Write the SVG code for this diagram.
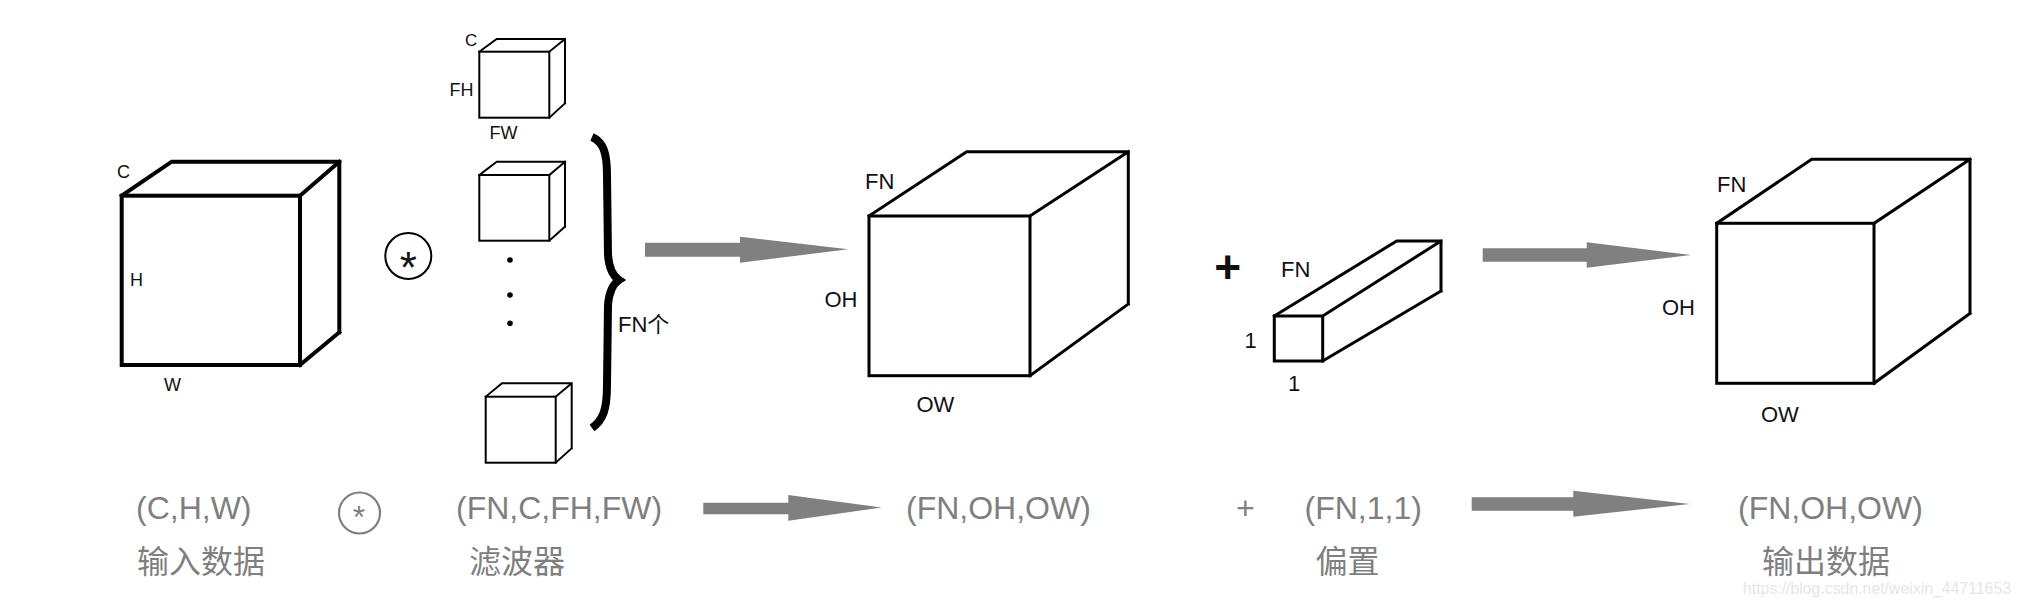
<svg xmlns="http://www.w3.org/2000/svg" width="2024" height="609" viewBox="0 0 2024 609">
<style>
.c4{fill:none;stroke:#000;stroke-width:4;stroke-linejoin:miter;stroke-linecap:square}
.c3{fill:none;stroke:#000;stroke-width:3;stroke-linejoin:miter;stroke-linecap:square}
.c2{fill:none;stroke:#000;stroke-width:2;stroke-linejoin:miter;stroke-linecap:square}
.lb{font-family:"Liberation Sans","Noto Sans CJK SC",sans-serif;fill:#111}
.s18{font-size:18px}
.s22{font-size:22px}
.gt{font-family:"Liberation Sans","Noto Sans CJK SC",sans-serif;font-size:32px;fill:#7f7f7f}
.cjk{font-family:"Noto Sans CJK SC","Liberation Sans",sans-serif;font-size:32px;fill:#7f7f7f}
.arrow{fill:#808080;stroke:none}
</style>

<g id="input-cube">
  <rect class="c4" x="121.7" y="195.7" width="178.3" height="169.3"/>
  <path class="c4" d="M121.7 195.7 L171.7 161.7 L339.3 161.7 L339.3 332.3 M300 195.7 L339.3 161.7 M300 365 L339.3 332.3"/>
  <text class="lb s18" x="117" y="178">C</text>
  <text class="lb s18" x="130" y="285.7">H</text>
  <text class="lb s18" x="164" y="390.7">W</text>
</g>

<g id="conv-op">
  <circle cx="408.3" cy="256" r="23" fill="none" stroke="#000" stroke-width="2"/>
  <text class="lb" x="408.3" y="283" font-size="44" text-anchor="middle">*</text>
</g>

<g id="filters">
  <rect class="c2" x="479.3" y="51.7" width="70" height="66"/>
  <path class="c2" d="M479.3 51.7 L496.7 39 L565 39 L565 103.3 M549.3 51.7 L565 39 M549.3 117.7 L565 103.3"/>
  <text class="lb" font-size="17" x="465" y="46">C</text>
  <text class="lb s18" x="449.5" y="96">FH</text>
  <text class="lb s18" x="489.5" y="139">FW</text>

  <rect class="c2" x="479.3" y="175" width="70" height="65.7"/>
  <path class="c2" d="M479.3 175 L496.7 161.7 L565 161.7 L565 226.7 M549.3 175 L565 161.7 M549.3 240.7 L565 226.7"/>

  <circle cx="510" cy="260" r="2.8" fill="#000"/>
  <circle cx="510" cy="295" r="2.8" fill="#000"/>
  <circle cx="510" cy="323.3" r="2.8" fill="#000"/>

  <rect class="c2" x="485.7" y="396.7" width="70" height="66"/>
  <path class="c2" d="M485.7 396.7 L502 383.3 L571.7 383.3 L571.7 448.3 M555.7 396.7 L571.7 383.3 M555.7 462.7 L571.7 448.3"/>
</g>

<g id="brace">
  <path d="M592 137 C603 142 607 152 607 175 L608 255 C609 268 613 276 619 280 C613 284 609 292 608 305 L607 385 C607 410 603 420 592 428" fill="none" stroke="#000" stroke-width="8"/>
  <text class="lb s22" x="618" y="331.7">FN个</text>
</g>

<g id="conv-output">
  <rect class="c3" x="869" y="216" width="161" height="159.7"/>
  <path class="c3" d="M869 216 L966.7 151.7 L1128.3 151.7 L1128.3 304 M1030 216 L1128.3 151.7 M1030 375.7 L1128.3 304"/>
  <text class="lb s22" x="865" y="189">FN</text>
  <text class="lb s22" x="824.5" y="306.7">OH</text>
  <text class="lb s22" x="916.5" y="411.7">OW</text>
</g>

<g id="plus-op">
  <text class="lb" x="1227.7" y="283" font-size="46" font-weight="bold" text-anchor="middle">+</text>
</g>

<g id="bias">
  <rect class="c3" x="1274.3" y="316" width="48.4" height="45"/>
  <path class="c3" d="M1274.3 316 L1396.7 241 L1441 241 L1441 291 M1322.7 316 L1441 241 M1322.7 361 L1441 291"/>
  <text class="lb s22" x="1281" y="277.3">FN</text>
  <text class="lb s22" x="1244.5" y="348.3">1</text>
  <text class="lb s22" x="1288" y="391">1</text>
</g>

<g id="final-output">
  <rect class="c3" x="1716.7" y="223.3" width="157.3" height="160"/>
  <path class="c3" d="M1716.7 223.3 L1811.7 159.3 L1970 159.3 L1970 313.3 M1874 223.3 L1970 159.3 M1874 383.3 L1970 313.3"/>
  <text class="lb s22" x="1717" y="191.7">FN</text>
  <text class="lb s22" x="1662" y="315">OH</text>
  <text class="lb s22" x="1761" y="421.7">OW</text>
</g>

<g id="connectors">
  <polygon class="arrow" points="645,242.7 740,242.7 740,236.7 848.3,249.3 740,262.7 740,256.7 645,256.7"/>
  <polygon class="arrow" points="1482.7,248.3 1586.7,248.3 1586.7,242.3 1691,255 1586.7,267.7 1586.7,261.7 1482.7,261.7"/>
  <polygon class="arrow" points="703.3,502.7 788.3,502.7 788.3,495 881.7,507.5 788.3,520.7 788.3,514.3 703.3,514.3"/>
  <polygon class="arrow" points="1471.7,497.3 1573.3,497.3 1573.3,490.7 1690,504 1573.3,516.7 1573.3,510.7 1471.7,510.7"/>
</g>

<g id="formula">
  <text class="gt" x="136" y="518.5">(C,H,W)</text>
  <text class="cjk" x="137" y="573">输入数据</text>
  <circle cx="359.5" cy="513" r="20.5" fill="none" stroke="#7f7f7f" stroke-width="2.2"/>
  <text class="gt" x="359" y="528" font-size="30" text-anchor="middle">*</text>
  <text class="gt" x="456" y="518.5">(FN,C,FH,FW)</text>
  <text class="cjk" x="469" y="573">滤波器</text>
  <text class="gt" x="906" y="518.5">(FN,OH,OW)</text>
  <text class="gt" x="1245.3" y="518.7" font-size="34" text-anchor="middle">+</text>
  <text class="gt" x="1304.5" y="518.5">(FN,1,1)</text>
  <text class="cjk" x="1315.5" y="573">偏置</text>
  <text class="gt" x="1738" y="518.5">(FN,OH,OW)</text>
  <text class="cjk" x="1762" y="573">输出数据</text>
</g>

<text x="1743" y="594" font-family="'Liberation Sans',sans-serif" font-size="17" fill="#e6e6e6" textLength="268" lengthAdjust="spacingAndGlyphs">https://blog.csdn.net/weixin_44711653</text>
</svg>
